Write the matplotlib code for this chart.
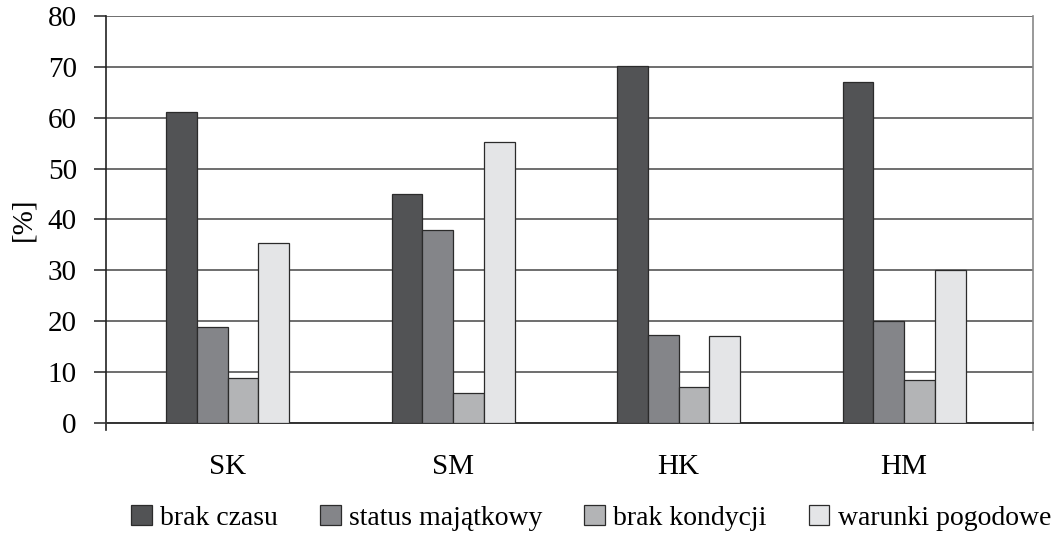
import matplotlib.pyplot as plt
import numpy as np

groups = ['SK', 'SM', 'HK', 'HM']
series = ['brak czasu', 'status majątkowy', 'brak kondycji', 'warunki pogodowe']
brak_czasu = [61.2, 45.1, 70.1, 67.1]
status_majatkowy = [18.9, 37.9, 17.3, 20.1]
brak_kondycji = [8.9, 5.8, 7.1, 8.4]
warunki_pogodowe = [35.3, 55.3, 17.1, 30.1]
yticks = [0, 10, 20, 30, 40, 50, 60, 70, 80]

values = [brak_czasu, status_majatkowy, brak_kondycji, warunki_pogodowe]
colors = ['#525355', '#848589', '#b3b4b6', '#e4e5e7']

plt.rcParams['font.family'] = ['Liberation Serif', 'DejaVu Serif']

fig = plt.figure(figsize=(10.52, 5.33), dpi=100)
ax = fig.add_axes([0.1008, 0.2064, 0.8812, 0.7636])

x = np.arange(len(groups))
w = 0.1363
for i, (vals, c) in enumerate(zip(values, colors)):
    ax.bar(x + (i - 1.5) * w, vals, w, color=c, edgecolor='#2b2b2b',
           linewidth=0.9, label=series[i], zorder=3)

ax.set_xlim(-0.539, 3.572)
ax.set_ylim(0, 80)
ax.set_yticks(yticks)
ax.set_xticks(x)
ax.set_xticklabels(groups, fontsize=21)
ax.tick_params(axis='y', labelsize=21, length=9, width=1.1, pad=12, color='#222222')
ax.tick_params(axis='x', length=0, pad=22)
ax.yaxis.grid(True, color='#555555', linewidth=1.2, zorder=0)
ax.set_axisbelow(True)

ax.spines['top'].set_visible(False)
ax.spines['left'].set_color('#222222')
ax.spines['left'].set_linewidth(1.2)
ax.spines['left'].set_bounds(-1.4, 80)
ax.spines['bottom'].set_color('#333333')
ax.spines['bottom'].set_linewidth(1.4)
ax.spines['right'].set_color('#888888')
ax.spines['right'].set_linewidth(1.2)
ax.spines['right'].set_bounds(-1.4, 80)

ax.set_ylabel('[%]', fontsize=21, labelpad=8)

handles, labels = ax.get_legend_handles_labels()
fig.legend(handles, labels, loc='center', bbox_to_anchor=(0.562, 0.028),
           ncol=4, frameon=False, fontsize=20, handlelength=0.75,
           handleheight=0.75, handletextpad=0.3, columnspacing=1.5,
           borderaxespad=0)

fig.savefig('out.png', dpi=100)
